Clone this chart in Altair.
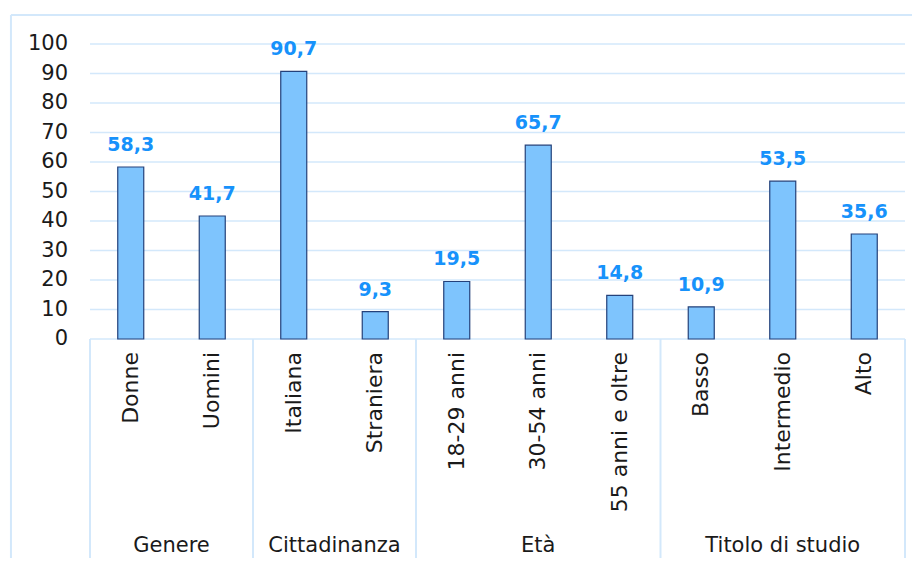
import altair as alt
import pandas as pd

groups = ["Genere", "Cittadinanza", "Età", "Titolo di studio"]
group_sizes = [2, 2, 3, 3]
categories = ["Donne", "Uomini", "Italiana", "Straniera", "18-29 anni",
              "30-54 anni", "55 anni e oltre", "Basso", "Intermedio", "Alto"]
values = [58.3, 41.7, 90.7, 9.3, 19.5, 65.7, 14.8, 10.9, 53.5, 35.6]
y_ticks = list(range(0, 101, 10))

FONT = "DejaVu Sans"
LINE = "#D3E8FB"
W, H = 815, 295

bars_df = pd.DataFrame({
    "categoria": categories,
    "valore": values,
    "pos": [i + 0.5 for i in range(len(categories))],
    "etichetta": [f"{v:.1f}".replace(".", ",") for v in values],
})

bounds = [0]
for s in group_sizes:
    bounds.append(bounds[-1] + s)
groups_df = pd.DataFrame({
    "gruppo": groups,
    "centro": [(bounds[i] + bounds[i + 1]) / 2 for i in range(len(groups))],
})
bounds_df = pd.DataFrame({"b": bounds})
ticks_df = pd.DataFrame({"t": y_ticks, "lab": [str(t) for t in y_ticks],
                         "x0": 0, "x1": len(categories)})

xs = alt.Scale(domain=[0, len(categories)], nice=False, zero=False, padding=0)
ys = alt.Scale(domain=[0, 100], nice=False, padding=0)

base = alt.Chart(bars_df)

grid = alt.Chart(ticks_df).mark_rule(color=LINE, strokeWidth=1.6).encode(
    x=alt.X("x0:Q", scale=xs, axis=None),
    x2="x1:Q",
    y=alt.Y("t:Q", scale=ys, axis=None),
)

tick_labels = alt.Chart(ticks_df).mark_text(font=FONT, fontSize=21, color="#1A1A1A",
                                            align="right", baseline="middle").encode(
    x=alt.value(-22),
    y=alt.Y("t:Q", scale=ys, axis=None),
    text="lab:N",
)

bars = base.mark_bar(width=26, fill="#7EC4FD", stroke="#24417A", strokeWidth=1.2).encode(
    x=alt.X("pos:Q", scale=xs, axis=None),
    y=alt.Y("valore:Q", scale=ys, axis=None),
)

vals = base.mark_text(font=FONT, fontSize=19, fontWeight="bold", color="#1792FB",
                      baseline="alphabetic", dy=-16).encode(
    x=alt.X("pos:Q", scale=xs, axis=None),
    y=alt.Y("valore:Q", scale=ys, axis=None),
    text="etichetta:N",
)

cats = base.mark_text(font=FONT, fontSize=22, color="#1A1A1A", angle=270,
                      align="right", baseline="middle").encode(
    x=alt.X("pos:Q", scale=xs, axis=None),
    y=alt.value(H + 13),
    text="categoria:N",
)

grp = alt.Chart(groups_df).mark_text(font=FONT, fontSize=21, color="#1A1A1A",
                                     align="center", baseline="middle").encode(
    x=alt.X("centro:Q", scale=xs, axis=None),
    y=alt.value(H + 207),
    text="gruppo:N",
)

seps = alt.Chart(bounds_df).mark_rule(color=LINE, strokeWidth=2).encode(
    x=alt.X("b:Q", scale=xs, axis=None),
    y=alt.Y(datum=0, scale=ys, axis=None),
    y2=alt.Y2(datum=-85),
)

one = bounds_df.head(1)
border_left = alt.Chart(one).mark_rule(color=LINE, strokeWidth=2).encode(
    x=alt.X(datum=-0.97, scale=xs, axis=None),
    y=alt.Y(datum=109.8, scale=ys, axis=None),
    y2=alt.Y2(datum=-85),
)
border_top = alt.Chart(one).mark_rule(color=LINE, strokeWidth=2).encode(
    x=alt.X(datum=-0.97, scale=xs, axis=None),
    x2=alt.X2(datum=10.5),
    y=alt.Y(datum=109.8, scale=ys, axis=None),
)

chart = alt.layer(grid, seps, border_left, border_top, bars, vals, tick_labels,
                  cats, grp).properties(
    width=W, height=H,
    autosize=alt.AutoSizeParams(type="none"),
    padding={"left": 82, "top": 36, "right": 7, "bottom": 219},
).configure_view(strokeWidth=0)

chart.save("out.html", embed_options={"renderer": "svg", "actions": False})
